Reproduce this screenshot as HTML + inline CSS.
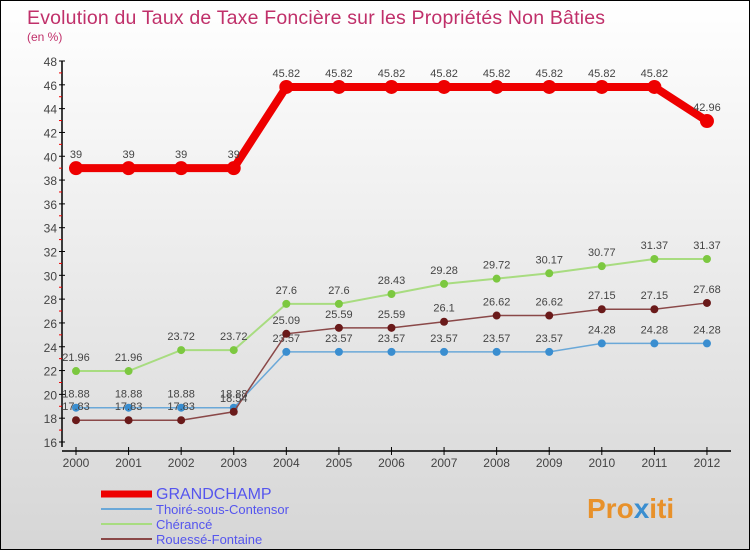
<!DOCTYPE html>
<html><head><meta charset="utf-8"><style>
body{margin:0}
#c{width:750px;height:550px;position:relative;overflow:hidden;box-sizing:border-box;border:1px solid #000;background:linear-gradient(#fff,#d6d6d6);font-family:"Liberation Sans",sans-serif}
</style></head><body>
<div id="c">
<svg width="750" height="550" id="svg">
<text x="26" y="23" font-size="19.5" fill="#c0306a" textLength="578">Evolution du Taux de Taxe Foncière sur les Propriétés Non Bâties</text>
<text x="26" y="40" font-size="12" fill="#c0306a">(en %)</text>
<text x="586" y="517" font-size="28" font-weight="bold" fill="#e8912a">Pro<tspan fill="#3a8ed0">x</tspan>iti</text>
</svg>
</div>
<script>
const years=[2000,2001,2002,2003,2004,2005,2006,2007,2008,2009,2010,2011,2012];
const grandchamp=[39,39,39,39,45.82,45.82,45.82,45.82,45.82,45.82,45.82,45.82,42.96];
const thoire=[18.88,18.88,18.88,18.88,23.57,23.57,23.57,23.57,23.57,23.57,24.28,24.28,24.28];
const cherance=[21.96,21.96,23.72,23.72,27.6,27.6,28.43,29.28,29.72,30.17,30.77,31.37,31.37];
const rouesse=[17.83,17.83,17.83,18.54,25.09,25.59,25.59,26.1,26.62,26.62,27.15,27.15,27.68];
const yTicks=[16,18,20,22,24,26,28,30,32,34,36,38,40,42,44,46,48];
const NS="http://www.w3.org/2000/svg",svg=document.getElementById('svg');
const X=i=>75+i*52.58, Y=v=>441-(v-16)*11.906;
function el(t,a,p){const e=document.createElementNS(NS,t);for(const k in a)e.setAttribute(k,a[k]);(p||svg).appendChild(e);return e;}
let ax=el('line',{x1:61,y1:60,x2:61,y2:446,stroke:'#000','stroke-width':1.5});


let xa=el('line',{x1:61,y1:450,x2:730,y2:450,stroke:'#000','stroke-width':1.5});


yTicks.forEach(v=>{
 el('line',{x1:58,y1:Y(v),x2:64,y2:Y(v),stroke:'#000'});
 if(v<48)el('line',{x1:58,y1:Y(v+1),x2:61,y2:Y(v+1),stroke:'#e00'});
 let t=el('text',{x:56,y:Y(v)+5,'font-size':12,fill:'#444','text-anchor':'end'});t.textContent=v;
 
 
});
years.forEach((y,i)=>{
 el('line',{x1:X(i),y1:446,x2:X(i),y2:454,stroke:'#000'});
 let t=el('text',{x:X(i),y:466,'font-size':12,fill:'#444','text-anchor':'middle'});t.textContent=y;
 
 
});
function series(d,col,w,r,name,dot){
 let g=el('g',{});
 
 
 el('polyline',{points:d.map((v,i)=>X(i)+','+Y(v)).join(' '),fill:'none',stroke:col,'stroke-width':w},g);
 d.forEach((v,i)=>{
  let c=el('circle',{cx:X(i),cy:Y(v),r:r,fill:dot},g);
  
  
  let t=el('text',{x:X(i),y:Y(v)-10,'font-size':11,fill:'#444','text-anchor':'middle'},g);t.textContent=v;
 });
}
series(thoire,'#6aa8d8',1.5,4,'series-thoire','#3a8ed0');
series(cherance,'#a8dc80',2,4,'series-cherance','#7cc840');
series(rouesse,'#8a4848',1.5,4,'series-rouesse','#6a1a1a');
series(grandchamp,'#ee0000',8,7,'series-grandchamp','#ee0000');
const leg=[['GRANDCHAMP','#ee0000',7,16],['Thoiré-sous-Contensor','#6aa8d8',2,13],['Chérancé','#a8dc80',2,13],['Rouessé-Fontaine','#8a4848',2,13]];
leg.forEach((l,i)=>{
 let yy=493+i*15;
 el('line',{x1:100,y1:yy,x2:151,y2:yy,stroke:l[1],'stroke-width':l[2]});
 let t=el('text',{x:155,y:yy+5,'font-size':l[3],fill:'#5555ee'});t.textContent=l[0];
 
 
});
</script>
</body></html>
